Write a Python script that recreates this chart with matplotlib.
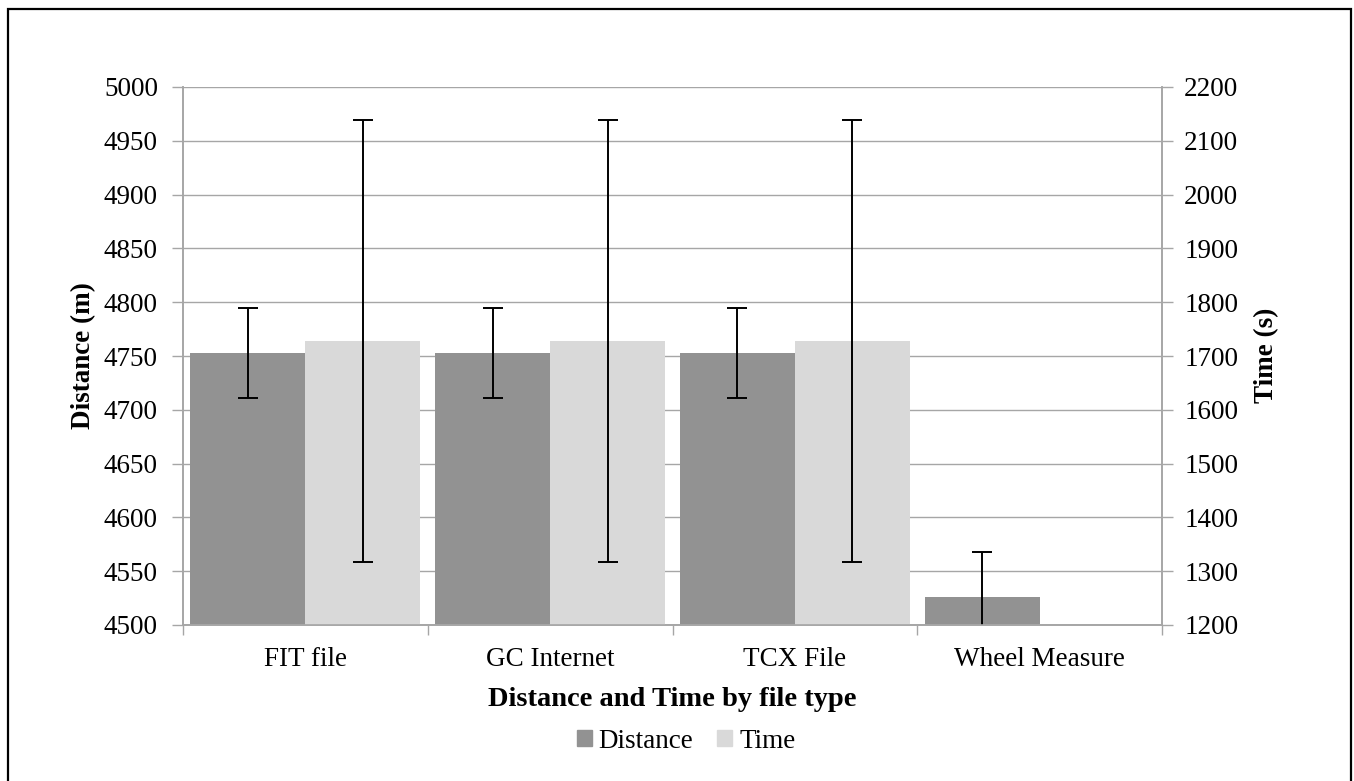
import numpy as np
import matplotlib
matplotlib.use('Agg')
import matplotlib.pyplot as plt
from matplotlib.patches import Rectangle, Patch

# data
categories = ['FIT file', 'GC Internet', 'TCX File', 'Wheel Measure']
distance = [4753, 4753, 4753, 4526]
distance_err = [42, 42, 42, 42]
time = [1728, 1728, 1728, np.nan]
time_err = [411, 411, 411, np.nan]

left_ticks = list(range(4500, 5001, 50))
right_ticks = list(range(1200, 2201, 100))

dark = '#929292'
light = '#d9d9d9'
axis_gray = '#a6a6a6'


def main():
    plt.rcParams['font.family'] = ['Liberation Serif', 'DejaVu Serif']
    plt.rcParams['font.size'] = 19.5

    fig = plt.figure(figsize=(13.54, 7.81), dpi=100)
    ax = fig.add_axes([183 / 1354, 1 - 625 / 781, (1162 - 183) / 1354, (625 - 87) / 781])
    ax2 = ax.twinx()

    x = np.arange(len(categories))
    w = 0.47

    ax.bar(x - w / 2, distance, w, color=dark, zorder=2)
    ax.errorbar(x - w / 2, distance, yerr=distance_err, fmt='none', ecolor='black',
                elinewidth=1.4, capsize=7.5, capthick=1.4, zorder=3)
    ax2.bar(x + w / 2, time, w, color=light, zorder=2)
    ax2.errorbar(x + w / 2, time, yerr=time_err, fmt='none', ecolor='black',
                 elinewidth=1.4, capsize=7.5, capthick=1.4, zorder=3)

    ax.set_xlim(-0.5, len(categories) - 0.5)
    ax.set_ylim(4500, 5000)
    ax2.set_ylim(1200, 2200)
    ax.set_yticks(left_ticks)
    ax2.set_yticks(right_ticks)

    # category labels centred, tick marks on the boundaries
    ax.set_xticks(x)
    ax.set_xticklabels(categories)
    ax.set_xticks(np.arange(len(categories) + 1) - 0.5, minor=True)
    ax.tick_params(axis='x', which='major', length=0, pad=16)
    ax.tick_params(axis='x', which='minor', length=7, color=axis_gray, width=1)
    ax.tick_params(axis='y', length=8, color=axis_gray, width=1, pad=10)
    ax2.tick_params(axis='y', length=8, color=axis_gray, width=1, pad=8)

    ax.grid(axis='y', color=axis_gray, linewidth=1, zorder=0)
    ax.set_axisbelow(True)
    for a in (ax, ax2):
        a.spines['top'].set_visible(False)
        for s in ('left', 'right', 'bottom'):
            a.spines[s].set_color(axis_gray)
            a.spines[s].set_linewidth(1.2)

    fig.text(84 / 1354, 1 - 356 / 781, 'Distance (m)', rotation=90, fontweight='bold',
             ha='center', va='center')
    fig.text(1267 / 1354, 1 - 355 / 781, 'Time (s)', rotation=90, fontweight='bold',
             ha='center', va='center')
    fig.text(672 / 1354, 1 - 700 / 781, 'Distance and Time by file type', fontweight='bold',
             fontsize=20.5, ha='center', va='center')

    handles = [Patch(color=dark, label='Distance'), Patch(color=light, label='Time')]
    fig.legend(handles=handles, loc='center', bbox_to_anchor=(686 / 1354, 1 - 741 / 781),
               ncol=2, frameon=False, handlelength=0.55, handleheight=0.55,
               handletextpad=0.25, columnspacing=0.9, borderpad=0)

    border = Rectangle((8 / 1354, -0.02), (1351 - 8) / 1354, (781 - 9) / 781 + 0.02,
                       transform=fig.transFigure, fill=False, edgecolor='black',
                       linewidth=1.6)
    fig.patches.append(border)

    fig.savefig('out.png', dpi=100, facecolor='white')


main()
